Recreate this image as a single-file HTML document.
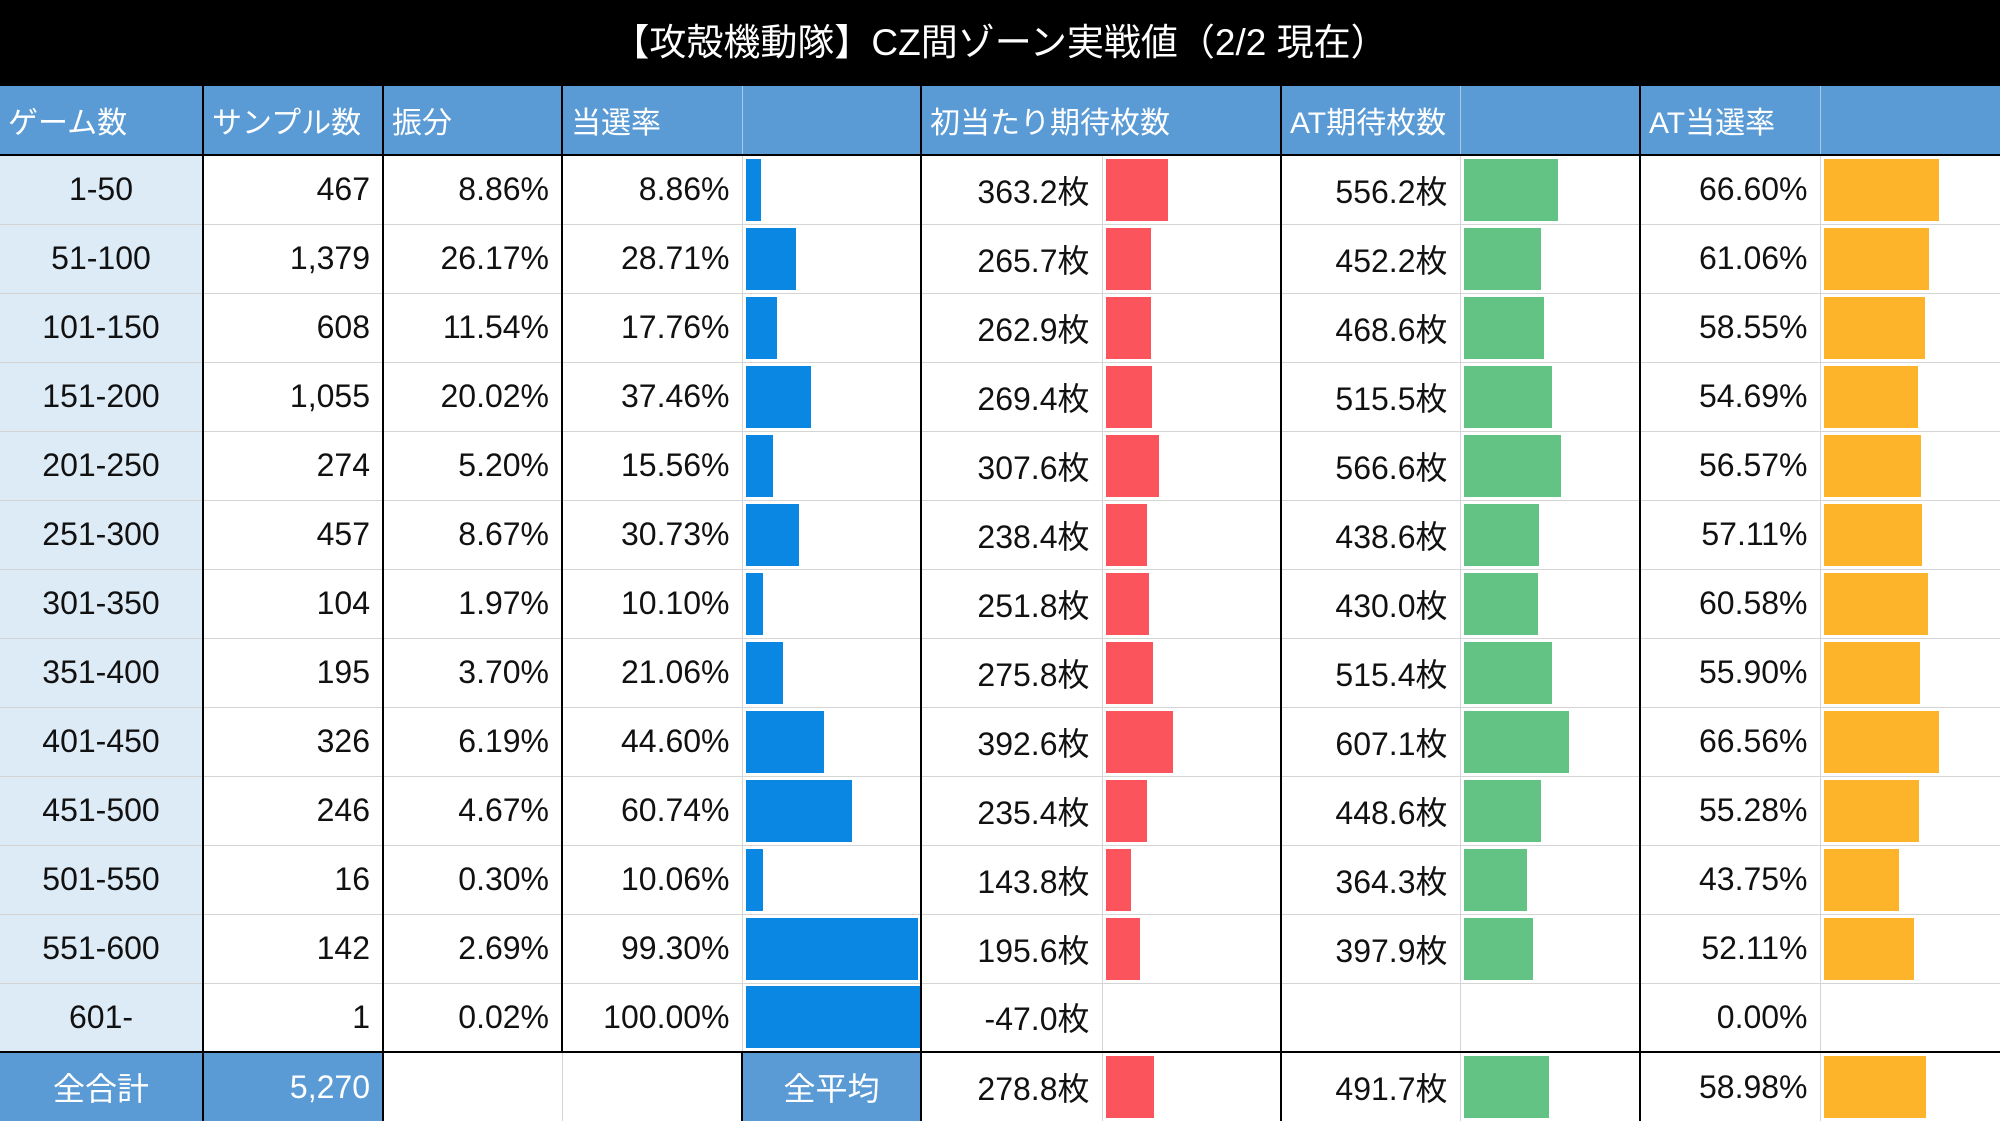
<!DOCTYPE html>
<html><head><meta charset="utf-8"><style>
body{margin:0;width:2000px;height:1121px;overflow:hidden;background:#fff;font-family:"Liberation Sans","Noto Sans CJK JP",sans-serif;}
.title{height:86px;background:#000;color:#fff;font-size:37px;line-height:86px;text-align:center;}
table{border-collapse:collapse;table-layout:fixed;width:2000px;}
tr{height:69px;}
td{height:69px;padding:0;font-size:32px;color:#111;text-align:right;padding-right:12px;border-top:1px solid #d4d4d4;border-left:2px solid #000;box-sizing:border-box;white-space:nowrap;overflow:hidden;}
td.g{border-left:1px solid #d4d4d4;padding:0 0 0 3px;text-align:left;}
td.f{background:#ddebf7;text-align:center;padding:0;border-left:none;}
tr.h td{background:#5b9bd5;color:#fff;text-align:left;padding-left:8px;border-bottom:2px solid #000;border-top:none;font-size:30px;}
tr.h td.g{border-left:1px solid #aac8e8;}
tr.t td{border-top:2px solid #000;}
td.b{background:#5b9bd5;color:#fff;}
.bar{height:62px;}
.bl{background:#0a86e3}.rd{background:#fb545c}.gr{background:#63c384}.or{background:#fdb42a}
</style></head><body>
<div class="title">【攻殻機動隊】CZ間ゾーン実戦値（2/2 現在）</div>
<table>
<colgroup><col style="width:203px"><col style="width:180px"><col style="width:179px"><col style="width:180px"><col style="width:179px"><col style="width:181px"><col style="width:179px"><col style="width:179px"><col style="width:180px"><col style="width:180px"><col style="width:180px"></colgroup>
<tr class="h"><td style="border-left:none">ゲーム数</td><td>サンプル数</td><td>振分</td><td>当選率</td><td class="g"></td><td colspan="2">初当たり期待枚数</td><td>AT期待枚数</td><td class="g"></td><td>AT当選率</td><td class="g"></td></tr>
<tr><td class="f">1-50</td><td>467</td><td>8.86%</td><td>8.86%</td><td class="g"><div class="bar bl" style="width:15px"></div></td><td>363.2枚</td><td class="g"><div class="bar rd" style="width:62px"></div></td><td>556.2枚</td><td class="g"><div class="bar gr" style="width:94px"></div></td><td>66.60%</td><td class="g"><div class="bar or" style="width:115px"></div></td></tr>
<tr><td class="f">51-100</td><td>1,379</td><td>26.17%</td><td>28.71%</td><td class="g"><div class="bar bl" style="width:50px"></div></td><td>265.7枚</td><td class="g"><div class="bar rd" style="width:45px"></div></td><td>452.2枚</td><td class="g"><div class="bar gr" style="width:77px"></div></td><td>61.06%</td><td class="g"><div class="bar or" style="width:105px"></div></td></tr>
<tr><td class="f">101-150</td><td>608</td><td>11.54%</td><td>17.76%</td><td class="g"><div class="bar bl" style="width:31px"></div></td><td>262.9枚</td><td class="g"><div class="bar rd" style="width:45px"></div></td><td>468.6枚</td><td class="g"><div class="bar gr" style="width:80px"></div></td><td>58.55%</td><td class="g"><div class="bar or" style="width:101px"></div></td></tr>
<tr><td class="f">151-200</td><td>1,055</td><td>20.02%</td><td>37.46%</td><td class="g"><div class="bar bl" style="width:65px"></div></td><td>269.4枚</td><td class="g"><div class="bar rd" style="width:46px"></div></td><td>515.5枚</td><td class="g"><div class="bar gr" style="width:88px"></div></td><td>54.69%</td><td class="g"><div class="bar or" style="width:94px"></div></td></tr>
<tr><td class="f">201-250</td><td>274</td><td>5.20%</td><td>15.56%</td><td class="g"><div class="bar bl" style="width:27px"></div></td><td>307.6枚</td><td class="g"><div class="bar rd" style="width:53px"></div></td><td>566.6枚</td><td class="g"><div class="bar gr" style="width:97px"></div></td><td>56.57%</td><td class="g"><div class="bar or" style="width:97px"></div></td></tr>
<tr><td class="f">251-300</td><td>457</td><td>8.67%</td><td>30.73%</td><td class="g"><div class="bar bl" style="width:53px"></div></td><td>238.4枚</td><td class="g"><div class="bar rd" style="width:41px"></div></td><td>438.6枚</td><td class="g"><div class="bar gr" style="width:75px"></div></td><td>57.11%</td><td class="g"><div class="bar or" style="width:98px"></div></td></tr>
<tr><td class="f">301-350</td><td>104</td><td>1.97%</td><td>10.10%</td><td class="g"><div class="bar bl" style="width:17px"></div></td><td>251.8枚</td><td class="g"><div class="bar rd" style="width:43px"></div></td><td>430.0枚</td><td class="g"><div class="bar gr" style="width:74px"></div></td><td>60.58%</td><td class="g"><div class="bar or" style="width:104px"></div></td></tr>
<tr><td class="f">351-400</td><td>195</td><td>3.70%</td><td>21.06%</td><td class="g"><div class="bar bl" style="width:37px"></div></td><td>275.8枚</td><td class="g"><div class="bar rd" style="width:47px"></div></td><td>515.4枚</td><td class="g"><div class="bar gr" style="width:88px"></div></td><td>55.90%</td><td class="g"><div class="bar or" style="width:96px"></div></td></tr>
<tr><td class="f">401-450</td><td>326</td><td>6.19%</td><td>44.60%</td><td class="g"><div class="bar bl" style="width:78px"></div></td><td>392.6枚</td><td class="g"><div class="bar rd" style="width:67px"></div></td><td>607.1枚</td><td class="g"><div class="bar gr" style="width:105px"></div></td><td>66.56%</td><td class="g"><div class="bar or" style="width:115px"></div></td></tr>
<tr><td class="f">451-500</td><td>246</td><td>4.67%</td><td>60.74%</td><td class="g"><div class="bar bl" style="width:106px"></div></td><td>235.4枚</td><td class="g"><div class="bar rd" style="width:41px"></div></td><td>448.6枚</td><td class="g"><div class="bar gr" style="width:77px"></div></td><td>55.28%</td><td class="g"><div class="bar or" style="width:95px"></div></td></tr>
<tr><td class="f">501-550</td><td>16</td><td>0.30%</td><td>10.06%</td><td class="g"><div class="bar bl" style="width:17px"></div></td><td>143.8枚</td><td class="g"><div class="bar rd" style="width:25px"></div></td><td>364.3枚</td><td class="g"><div class="bar gr" style="width:63px"></div></td><td>43.75%</td><td class="g"><div class="bar or" style="width:75px"></div></td></tr>
<tr><td class="f">551-600</td><td>142</td><td>2.69%</td><td>99.30%</td><td class="g"><div class="bar bl" style="width:172px"></div></td><td>195.6枚</td><td class="g"><div class="bar rd" style="width:34px"></div></td><td>397.9枚</td><td class="g"><div class="bar gr" style="width:69px"></div></td><td>52.11%</td><td class="g"><div class="bar or" style="width:90px"></div></td></tr>
<tr><td class="f">601-</td><td>1</td><td>0.02%</td><td>100.00%</td><td class="g"><div class="bar bl" style="width:174px"></div></td><td>-47.0枚</td><td class="g"></td><td></td><td class="g"></td><td>0.00%</td><td class="g"></td></tr>
<tr class="t"><td class="f b">全合計</td><td class="b">5,270</td><td></td><td style="border-left:1px solid #d4d4d4"></td><td class="b" style="text-align:center;padding:0">全平均</td><td>278.8枚</td><td class="g"><div class="bar rd" style="width:48px"></div></td><td>491.7枚</td><td class="g"><div class="bar gr" style="width:85px"></div></td><td>58.98%</td><td class="g"><div class="bar or" style="width:102px"></div></td></tr>
</table>
</body></html>
